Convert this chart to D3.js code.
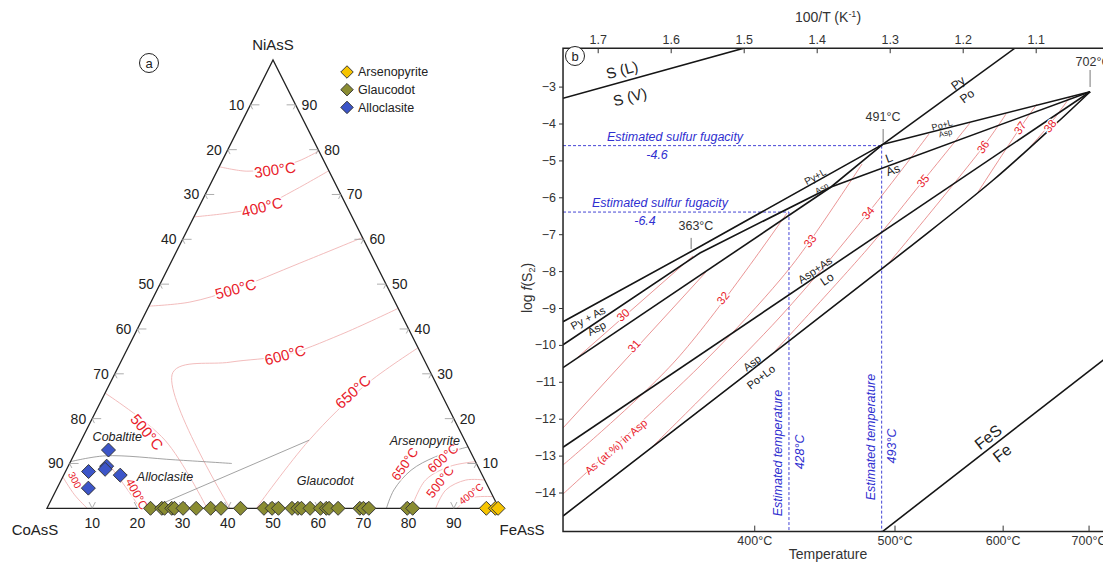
<!DOCTYPE html>
<html>
<head>
<meta charset="utf-8">
<style>
  body { margin: 0; background: #fff; }
  svg { font-family: "Liberation Sans", Arial, sans-serif; }
</style>
</head>
<body>
<div id="chart"></div>
<script src="https://cdn.jsdelivr.net/npm/d3@7"></script>
<script>
  // ---------------- panel a : ternary, compositions as [NiAsS, FeAsS] mol % ----------------
  const sideTicks = [10, 20, 30, 40, 50, 60, 70, 80, 90];
  const arsenopyrite = [[0, 97.2], [0, 99.2], [0, 99.8]];
  const glaucodotFe = [22.9, 25.4, 26.0, 27.6, 28.2, 30.1, 33.0, 36.2, 38.5, 42.8, 48.0, 49.8, 51.2,
    54.2, 55.5, 56.3, 58.2, 60.5, 61.8, 62.4, 64.4, 69.2, 70.0, 71.2, 79.7, 80.9];
  const alloclasite = [[13.0, 7.1], [8.2, 5.1], [9.4, 8.5], [8.7, 8.5], [7.4, 12.5], [4.5, 6.9]];

  // isotherms (red) and field boundaries (grey)
  const iso300 = [[76.2, 0], [75.2, 6.6], [75.9, 12.4], [77.5, 17], [79.7, 20.3]];
  const iso400 = [[65, 0], [65.9, 7.5], [67.3, 13.8], [71.0, 19.3], [75.3, 24.7]];
  const iso500 = [[45.1, 0], [46.0, 8.6], [48.9, 17.1], [54.7, 28.6], [60.4, 39.6]];
  const iso600 = [[0, 40.5], [30.3, 12.7], [32.6, 24.2], [34.2, 35.6], [38.7, 45.5], [44.6, 55.4]];
  const iso650 = [[0, 46.3], [15.2, 50.4], [27.5, 56.7], [35.8, 64.2]];
  const iso500Co = [[25.7, 0], [15.2, 18.5], [0, 35.4]];
  const iso400Co = [[9.0, 9.8], [4.1, 15.8], [0, 20.6]];
  const iso300Co = [[7.0, 0], [3.0, 4.6], [0, 8.9]];
  const iso600Fe = [[0, 80.6], [6.3, 80.6], [9.4, 84.6], [10.4, 89.6]];
  const iso500Fe = [[0, 86.0], [4.1, 86.2], [6.3, 89.5], [6.3, 93.7]];
  const iso400Fe = [[0, 90.7], [2.3, 92.6], [2.6, 97.4]];
  const bound650Fe = [[0, 75.1], [4.1, 74.7], [8.5, 76.3], [11.5, 80.2], [13.7, 86.3]];
  const boundCobaltite = [[10.4, 0], [11.7, 7.0], [10.8, 23.0], [10.0, 35.9]];
  const boundGlaucodot = [[0, 23.0], [15.2, 50.4]];

  const ternLabels = [
    { t: "300°C", p: [75.5, 12.7], r: -8, s: 15 },
    { t: "400°C", p: [67.2, 14.0], r: -14, s: 15 },
    { t: "500°C", p: [48.9, 17.3], r: -15, s: 15 },
    { t: "600°C", p: [34.2, 35.6], r: -15, s: 15 },
    { t: "650°C", p: [26.0, 54.7], r: -42, s: 15 },
    { t: "500°C", p: [17.0, 13.6], r: 50, s: 15 },
    { t: "400°C", p: [3.2, 18.3], r: 62, s: 12 },
    { t: "300", p: [6.3, 3.0], r: 62, s: 10 },
    { t: "650°C", p: [9.9, 74.2], r: -55, s: 13 },
    { t: "600°C", p: [11.2, 82.0], r: -42, s: 13 },
    { t: "500°C", p: [5.9, 84.0], r: -52, s: 13 },
    { t: "400°C", p: [3.2, 92.2], r: -38, s: 10 }
  ];
  const fieldLabels = [
    { t: "Cobaltite", p: [15.9, 7.6] },
    { t: "Alloclasite", p: [7.0, 22.6] },
    { t: "Glaucodot", p: [6.1, 58.5] },
    { t: "Arsenopyrite", p: [15.2, 76.0] }
  ];

  // ---------------- panel b : log f(S2) against 1000/T ----------------
  const invTTicks = [1.7, 1.6, 1.5, 1.4, 1.3, 1.2, 1.1];
  const logfTicks = [-3, -4, -5, -6, -7, -8, -9, -10, -11, -12, -13, -14];
  const tempTicks = [400, 500, 600, 700];
  const invariants = [
    { t: "363°C", p: [1.572, -7.469], lab: [1.5654, -6.778], tick: [-7.10, -7.40] },
    { t: "491°C", p: [1.309, -4.56], lab: [1.3092, -3.824], tick: [-4.15, -4.52] },
    { t: "702°C", p: [1.0255, -3.14], lab: [1.0215, -2.333], tick: [-2.55, -3.01] }
  ];

  const sLV = [[1.7475, -3.317], [1.5, -1.96]];
  const pyPo = [[1.309, -4.56], [1.1285, -1.96]];
  const pyLAsp = [[1.7475, -9.371], [1.572, -7.469], [1.309, -4.56]];
  const pyAsAsp = [[1.7475, -9.995], [1.5599, -7.509], [1.3804, -5.72], [1.309, -4.56]];
  const aspLower = [[1.7475, -10.618], [1.3804, -5.72]];
  const lAs = [[1.3804, -5.72], [1.0255, -3.14]];
  const poLAsp = [[1.309, -4.56], [1.0255, -3.14]];
  const aspAsLo = [[1.7475, -12.775], [1.0255, -3.14]];
  const aspPoLo = [[1.7475, -14.637], [1.2767, -7.412], [1.1581, -5.531], [1.0667, -3.905], [1.0255, -3.14]];
  const feSFe = [[1.3099, -15.06], [0.99, -10.14]];

  // As (at.%) isopleths in arsenopyrite
  const as30 = [[1.7270, -10.328], [1.5695, -7.591]];
  const as31 = [[1.7475, -12.252], [1.5517, -8.024]];
  const as32 = [[1.7475, -13.255], [1.5927, -10.409], [1.4407, -6.426]];
  const as33 = [[1.7475, -14.041], [1.5517, -10.409], [1.4503, -8.241], [1.4092, -7.184], [1.3379, -5.098]];
  const as34 = [[1.6284, -12.821], [1.4503, -9.244], [1.3297, -6.426], [1.2462, -4.285]];
  const as35 = [[1.4571, -10.165], [1.3270, -7.320], [1.2544, -5.558], [1.1900, -3.986]];
  const as36 = [[1.3023, -7.808], [1.1722, -4.637], [1.1407, -3.743]];
  const as37 = [[1.1790, -5.856], [1.1215, -4.122], [1.0982, -3.472]];
  const as38 = [[1.1078, -4.637], [1.0804, -4.014], [1.0530, -3.282]];
  const isoLabels = [
    { t: "30", p: [1.6653, -9.190], r: -42 }, { t: "31", p: [1.6503, -10.030], r: -48 },
    { t: "32", p: [1.5284, -8.729], r: -52 }, { t: "33", p: [1.4092, -7.184], r: -52 },
    { t: "34", p: [1.3297, -6.426], r: -50 }, { t: "35", p: [1.2544, -5.558], r: -50 },
    { t: "36", p: [1.1722, -4.637], r: -55 }, { t: "37", p: [1.1215, -4.122], r: -55 },
    { t: "38", p: [1.0804, -4.068], r: -52 }
  ];

  const estimates = [
    { fug: -4.6, invT: 1.311, temp: "493°C", fugLab: [1.5941, -4.366], valLab: [1.6187, -4.854],
      tLab: [1.3256, -12.50], tValLab: [1.2969, -12.74] },
    { fug: -6.4, invT: 1.438, temp: "428°C", fugLab: [1.6147, -6.154], valLab: [1.6352, -6.642],
      tLab: [1.4530, -12.93], tValLab: [1.4239, -12.90] }
  ];

  const curveLabels = [
    { t: "S (L)", p: [1.6667, -2.550], r: -15, s: 15 },
    { t: "S (V)", p: [1.6558, -3.282], r: -15, s: 15 },
    { t: "Py", p: [1.2064, -2.902], r: -37, s: 12 },
    { t: "Po", p: [1.1941, -3.255], r: -37, s: 12 },
    { t: "Po+L", p: [1.2283, -4.04], r: -15, s: 9 },
    { t: "Asp", p: [1.2237, -4.26], r: -15, s: 8 },
    { t: "L", p: [1.3010, -4.935], r: -20, s: 12 },
    { t: "As", p: [1.2955, -5.260], r: -20, s: 12 },
    { t: "Py+L", p: [1.4023, -5.442], r: -29, s: 10 },
    { t: "Asp", p: [1.3932, -5.756], r: -29, s: 8 },
    { t: "Py + As", p: [1.7133, -9.271], r: -28, s: 11 },
    { t: "Asp", p: [1.7014, -9.550], r: -28, s: 11 },
    { t: "Asp+As", p: [1.4023, -7.970], r: -34, s: 11 },
    { t: "Lo", p: [1.3859, -8.214], r: -34, s: 12 },
    { t: "Asp", p: [1.4886, -10.49], r: -37, s: 11 },
    { t: "Po+Lo", p: [1.4763, -10.87], r: -37, s: 11 },
    { t: "FeS", p: [1.1653, -12.496], r: -38, s: 16 },
    { t: "Fe", p: [1.1461, -12.93], r: -38, s: 16 }
  ];

  const colors = { Arsenopyrite: "#f6c400", Glaucodot: "#8a8c32", Alloclasite: "#3c55c8" };
  const RED = "#e8202a", BLUE = "#3030d0", PINK = "#f0b4b4", INK = "#222";

  const svg = d3.select("#chart").append("svg")
    .attr("width", 1103)
    .attr("height", 562);

  // ================= panel a =================
  const tx = d3.scaleLinear().domain([0, 100]).range([47, 499]);
  const ty = d3.scaleLinear().domain([0, 100]).range([508.3, 60]);
  const tern = (d) => [tx(d[1] + d[0] / 2), ty(d[0])];
  const ga = svg.append("g");
  const tline = d3.line().x(d => tern(d)[0]).y(d => tern(d)[1]).curve(d3.curveCatmullRom);

  [iso300, iso400, iso500, iso600, iso650, iso500Co, iso400Co, iso300Co, iso600Fe, iso500Fe, iso400Fe]
    .forEach(c => ga.append("path").attr("d", tline(c)).attr("fill", "none")
      .attr("stroke", PINK).attr("stroke-width", 0.9));
  [bound650Fe, boundCobaltite, boundGlaucodot]
    .forEach(c => ga.append("path").attr("d", tline(c)).attr("fill", "none")
      .attr("stroke", "#8c8c8c").attr("stroke-width", 0.8));

  // triangle
  const corners = [[0, 0], [100, 0], [0, 100]].map(tern);
  ga.append("path").attr("d", "M" + corners.join("L") + "Z")
    .attr("fill", "none").attr("stroke", INK).attr("stroke-width", 1.3).attr("stroke-linejoin", "miter");

  // side ticks
  const unit = (a, b) => { const dx = b[0] - a[0], dy = b[1] - a[1], l = Math.hypot(dx, dy); return [dx / l, dy / l]; };
  const dRight = unit(corners[1], corners[2]);   // apex -> FeAsS
  const dLeft = unit(corners[1], corners[0]);    // apex -> CoAsS
  const tick = (p, v1, v2) => {
    ga.append("path").attr("d", `M${p[0] + v1[0]},${p[1] + v1[1]}L${p[0]},${p[1]}L${p[0] + v2[0]},${p[1] + v2[1]}`)
      .attr("fill", "none").attr("stroke", "#999").attr("stroke-width", 0.8);
  };
  sideTicks.forEach(v => {
    const pl = tern([100 - v, 0]);
    tick(pl, [9, 0], [dRight[0] * 5, dRight[1] * 5]);
    ga.append("text").attr("x", pl[0] - 6).attr("y", pl[1]).attr("dy", "0.35em")
      .attr("text-anchor", "end").attr("font-size", 14).attr("fill", INK).text(v);
    const pr = tern([v, 100 - v]);
    tick(pr, [-9, 0], [dLeft[0] * 5, dLeft[1] * 5]);
    ga.append("text").attr("x", pr[0] + 6).attr("y", pr[1]).attr("dy", "0.35em")
      .attr("text-anchor", "start").attr("font-size", 14).attr("fill", INK).text(v);
    const pb = tern([0, v]);
    tick(pb, [-dRight[0] * 7, -dRight[1] * 7], [-dLeft[0] * 7, -dLeft[1] * 7]);
    ga.append("text").attr("x", pb[0]).attr("y", pb[1] + 15).attr("dy", "0.35em")
      .attr("text-anchor", "middle").attr("font-size", 14).attr("fill", INK).text(v);
  });

  // vertex labels
  ga.append("text").attr("x", corners[1][0]).attr("y", corners[1][1] - 10).attr("text-anchor", "middle")
    .attr("font-size", 15).attr("fill", INK).text("NiAsS");
  ga.append("text").attr("x", corners[0][0] - 12).attr("y", corners[0][1] + 27).attr("text-anchor", "middle")
    .attr("font-size", 15).attr("fill", INK).text("CoAsS");
  ga.append("text").attr("x", corners[2][0] + 23).attr("y", corners[2][1] + 27).attr("text-anchor", "middle")
    .attr("font-size", 15).attr("fill", INK).text("FeAsS");

  // isotherm and field labels
  ternLabels.forEach(d => {
    const p = tern(d.p);
    ga.append("text").attr("transform", `translate(${p[0]},${p[1]}) rotate(${d.r})`)
      .attr("text-anchor", "middle").attr("dy", "0.35em").attr("font-size", d.s).attr("fill", RED)
      .attr("stroke", "#fff").attr("stroke-width", 3).attr("paint-order", "stroke").text(d.t);
  });
  fieldLabels.forEach(d => {
    const p = tern(d.p);
    ga.append("text").attr("x", p[0]).attr("y", p[1]).attr("dy", "0.35em").attr("text-anchor", "middle")
      .attr("font-size", 12.5).attr("font-style", "italic").attr("fill", INK).text(d.t);
  });

  // data points
  const diamond = d3.symbol(d3.symbolSquare, 98);
  const drawPts = (pts, fill) => ga.append("g").selectAll("path").data(pts).enter().append("path")
    .attr("d", diamond)
    .attr("transform", d => `translate(${tern(d)[0]},${tern(d)[1]}) rotate(45)`)
    .attr("fill", fill).attr("stroke", "#333").attr("stroke-width", 0.9);
  drawPts(glaucodotFe.map(f => [0, f]), colors.Glaucodot);
  drawPts(alloclasite, colors.Alloclasite);
  drawPts(arsenopyrite, colors.Arsenopyrite);

  // legend
  const legend = ga.append("g").attr("transform", "translate(347,72)");
  Object.keys(colors).forEach((k, i) => {
    legend.append("path").attr("d", d3.symbol(d3.symbolSquare, 78))
      .attr("transform", `translate(0,${i * 17.7}) rotate(45)`)
      .attr("fill", colors[k]).attr("stroke", "#333").attr("stroke-width", 0.9);
    legend.append("text").attr("x", 11).attr("y", i * 17.7).attr("dy", "0.35em")
      .attr("font-size", 12.5).attr("fill", INK).text(k);
  });

  // panel letter
  ga.append("circle").attr("cx", 149).attr("cy", 63).attr("r", 9.5).attr("fill", "none").attr("stroke", INK);
  ga.append("text").attr("x", 149).attr("y", 63).attr("dy", "0.35em").attr("text-anchor", "middle")
    .attr("font-size", 13).attr("fill", INK).text("a");

  // ================= panel b =================
  const x = d3.scaleLinear().domain([1.7, 1.1]).range([597.7, 1035.7]);
  const y = d3.scaleLinear().domain([-6, -14]).range([197.3, 492.5]);
  const box = { left: x(1.7475), top: y(-1.96), right: 1115, bottom: y(-15.06) };
  const gb = svg.append("g");

  gb.append("clipPath").attr("id", "plot-clip").append("rect")
    .attr("x", box.left).attr("y", box.top).attr("width", box.right - box.left).attr("height", box.bottom - box.top);
  const plot = gb.append("g").attr("clip-path", "url(#plot-clip)");
  const line = d3.line().x(d => x(d[0])).y(d => y(d[1]));
  const smooth = d3.line().x(d => x(d[0])).y(d => y(d[1])).curve(d3.curveCatmullRom);

  // isopleths
  [as30, as31, as32, as33, as34, as35, as36, as37, as38].forEach(c =>
    plot.append("path").attr("d", smooth(c)).attr("fill", "none").attr("stroke", "#e57a7a").attr("stroke-width", 0.8));

  // estimated conditions (dashed)
  estimates.forEach(e => {
    plot.append("line").attr("x1", box.left).attr("x2", x(e.invT)).attr("y1", y(e.fug)).attr("y2", y(e.fug))
      .attr("stroke", BLUE).attr("stroke-width", 0.9).attr("stroke-dasharray", "3,2");
    plot.append("line").attr("x1", x(e.invT)).attr("x2", x(e.invT)).attr("y1", y(e.fug)).attr("y2", box.bottom)
      .attr("stroke", BLUE).attr("stroke-width", 0.9).attr("stroke-dasharray", "3,2");
  });

  // reaction curves
  [sLV, pyPo, pyLAsp, pyAsAsp, aspLower, lAs, poLAsp, aspAsLo, feSFe].forEach(c =>
    plot.append("path").attr("d", line(c)).attr("fill", "none").attr("stroke", "#151515").attr("stroke-width", 1.6));
  plot.append("path").attr("d", smooth(aspPoLo)).attr("fill", "none").attr("stroke", "#151515").attr("stroke-width", 1.6);

  // invariant points
  invariants.forEach(d => {
    plot.append("line").attr("x1", x(d.p[0])).attr("x2", x(d.p[0])).attr("y1", y(d.tick[0])).attr("y2", y(d.tick[1]))
      .attr("stroke", "#777").attr("stroke-width", 1);
    gb.append("text").attr("x", x(d.lab[0])).attr("y", y(d.lab[1])).attr("dy", "0.35em").attr("text-anchor", "middle")
      .attr("font-size", 12.5).attr("fill", "#333").text(d.t);
  });

  // labels on curves
  curveLabels.forEach(d => {
    plot.append("text").attr("transform", `translate(${x(d.p[0])},${y(d.p[1])}) rotate(${d.r})`)
      .attr("text-anchor", "middle").attr("dy", "0.35em").attr("font-size", d.s).attr("fill", "#222").text(d.t);
  });
  isoLabels.forEach(d => {
    plot.append("text").attr("transform", `translate(${x(d.p[0])},${y(d.p[1])}) rotate(${d.r})`)
      .attr("text-anchor", "middle").attr("dy", "0.35em").attr("font-size", 11.5).attr("fill", RED)
      .attr("stroke", "#fff").attr("stroke-width", 2.5).attr("paint-order", "stroke").text(d.t);
  });
  plot.append("text").attr("transform", `translate(${x(1.6749)},${y(-12.759)}) rotate(-41)`)
    .attr("text-anchor", "middle").attr("dy", "0.35em").attr("font-size", 11).attr("fill", RED)
    .attr("stroke", "#fff").attr("stroke-width", 2.5).attr("paint-order", "stroke").text("As (at.%) in Asp");

  // estimate labels
  estimates.forEach(e => {
    const blue = (p, t, rot) => plot.append("text")
      .attr("transform", `translate(${x(p[0])},${y(p[1])}) rotate(${rot})`)
      .attr("text-anchor", "middle").attr("dy", "0.35em").attr("font-size", 12.5)
      .attr("font-style", "italic").attr("fill", BLUE).text(t);
    blue(e.fugLab, "Estimated sulfur fugacity", 0);
    blue(e.valLab, d3.format(".1f")(e.fug).replace("−", "-"), 0);
    blue(e.tLab, "Estimated temperature", -90);
    blue(e.tValLab, e.temp, -90);
  });

  // frame
  gb.append("path")
    .attr("d", `M${box.right},${box.top}H${box.left}V${box.bottom}H${box.right}`)
    .attr("fill", "none").attr("stroke", "#222").attr("stroke-width", 1.5);

  // axes
  const styleAxis = g => {
    g.select(".domain").remove();
    g.attr("font-size", 12.5).attr("font-family", null).attr("color", "#333");
  };
  gb.append("g").attr("transform", `translate(0,${box.top})`)
    .call(d3.axisTop(x).tickValues(invTTicks).tickSize(-5).tickPadding(4).tickFormat(d3.format(".1f")))
    .call(styleAxis);
  gb.append("g").attr("transform", `translate(${box.left},0)`)
    .call(d3.axisLeft(y).tickValues(logfTicks).tickSize(4).tickPadding(3))
    .call(styleAxis);
  gb.append("g").attr("transform", `translate(0,${box.bottom})`)
    .call(d3.axisBottom(x).tickValues(tempTicks.map(t => 1000 / (t + 273.15))).tickSize(-6).tickPadding(5)
      .tickFormat((d, i) => tempTicks[i] + "°C"))
    .call(styleAxis);

  // axis titles
  const topTitle = gb.append("text").attr("x", 828).attr("y", 22).attr("text-anchor", "middle")
    .attr("font-size", 14).attr("fill", "#333");
  topTitle.append("tspan").text("100/T (K");
  topTitle.append("tspan").attr("dy", -5).attr("font-size", 9).text("-1");
  topTitle.append("tspan").attr("dy", 5).text(")");
  gb.append("text").attr("x", 828).attr("y", 559).attr("text-anchor", "middle")
    .attr("font-size", 14).attr("fill", "#333").text("Temperature");
  const yTitle = gb.append("text").attr("transform", "translate(532,288) rotate(-90)").attr("text-anchor", "middle")
    .attr("font-size", 14).attr("fill", "#333");
  yTitle.append("tspan").text("log ");
  yTitle.append("tspan").attr("font-style", "italic").text("f");
  yTitle.append("tspan").text("(S");
  yTitle.append("tspan").attr("dy", 3).attr("font-size", 9).text("2");
  yTitle.append("tspan").attr("dy", -3).text(")");

  gb.append("circle").attr("cx", 575).attr("cy", 56).attr("r", 9.5).attr("fill", "#fff").attr("stroke", INK);
  gb.append("text").attr("x", 575).attr("y", 56).attr("dy", "0.35em").attr("text-anchor", "middle")
    .attr("font-size", 13).attr("fill", INK).text("b");
</script>
</body>
</html>
